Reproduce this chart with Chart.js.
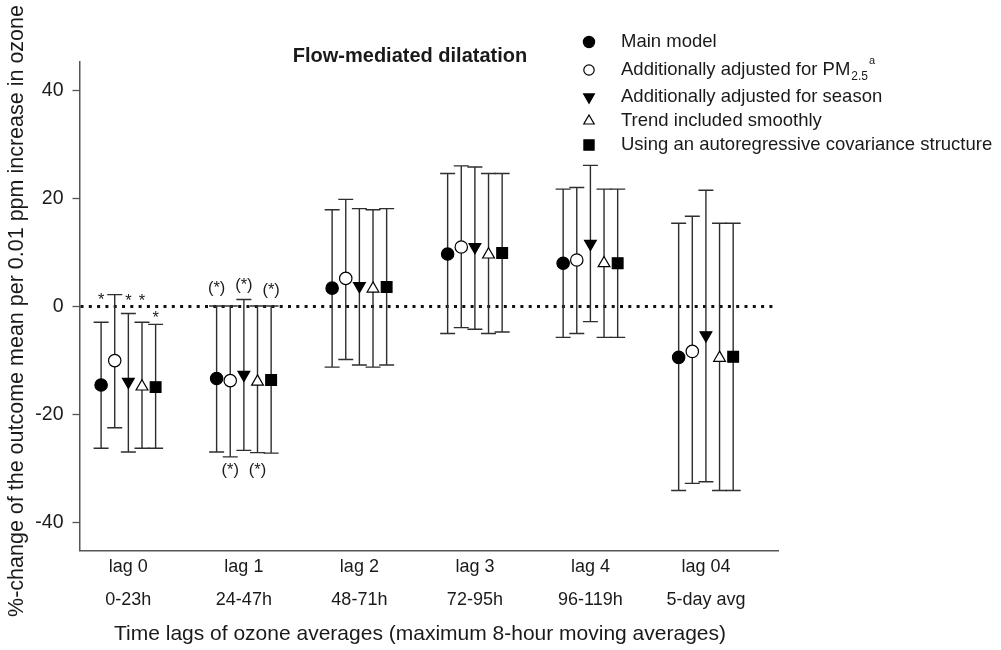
<!DOCTYPE html>
<html><head><meta charset="utf-8">
<script src="https://cdn.jsdelivr.net/npm/chart.js@4.4.1/dist/chart.umd.min.js"></script>
<style>html,body{margin:0;padding:0;background:#fff}#wrap{width:1001px;height:650px;position:relative}</style>
</head><body><div id="wrap"><canvas id="c" width="1001" height="650"></canvas></div>
<script>
// ---------- data ----------
const lagNames = ["lag 0", "lag 1", "lag 2", "lag 3", "lag 4", "lag 04"];
const lagHours = ["0-23h", "24-47h", "48-71h", "72-95h", "96-119h", "5-day avg"];
const yTickValues = [-40, -20, 0, 20, 40];

const seriesNames = ["Main model", "Additionally adjusted for PM", "Additionally adjusted for season", "Trend included smoothly", "Using an autoregressive covariance structure"];
const seriesSub = ["", "2.5", "", "", ""];
const seriesSup = ["", "a", "", "", ""];

const mainEst  = [-14.5, -13.3, 3.4, 9.7, 8.0, -9.4];
const mainLow  = [-26.2, -26.9, -11.2, -5.0, -5.7, -34.0];
const mainHigh = [-2.9, 0.1, 17.9, 24.6, 21.7, 15.4];

const pmEst  = [-10.0, -13.7, 5.2, 11.0, 8.6, -8.3];
const pmLow  = [-22.4, -27.8, -9.8, -3.9, -5.0, -32.7];
const pmHigh = [2.2, 0.1, 19.8, 26.0, 22.0, 16.7];

const seasonEst  = [-13.9, -12.6, 3.8, 11.0, 11.6, -5.3];
const seasonLow  = [-26.9, -26.6, -10.8, -4.2, -2.8, -32.4];
const seasonHigh = [-1.3, 1.3, 18.1, 25.8, 26.1, 21.5];

const trendEst  = [-14.8, -13.9, 3.3, 9.6, 8.0, -9.5];
const trendLow  = [-26.2, -27.0, -11.2, -5.0, -5.7, -34.0];
const trendHigh = [-2.9, 0.1, 17.9, 24.6, 21.7, 15.4];

const arEst  = [-14.9, -13.6, 3.6, 9.9, 8.0, -9.3];
const arLow  = [-26.2, -27.1, -10.8, -4.7, -5.7, -34.0];
const arHigh = [-3.3, 0.1, 18.1, 24.6, 21.7, 15.4];

// significance marks: lag index, series index, text, y value
const sigLag    = [0, 0, 0, 0, 1, 1, 1, 1, 1];
const sigSeries = [0, 2, 3, 4, 0, 2, 4, 1, 3];
const sigText   = ["*", "*", "*", "*", "(*)", "(*)", "(*)", "(*)", "(*)"];
const sigY      = [2.1, 1.9, 1.9, -1.3, 3.3, 3.9, 2.9, -30.3, -30.3];

const titleText = "Flow-mediated dilatation";
const yTitle = "%-change of the outcome mean per 0.01 ppm increase in ozone";
const xTitle = "Time lags of ozone averages (maximum 8-hour moving averages)";

// ---------- styles ----------
const FONT = '"Liberation Sans", Arial, Helvetica, sans-serif';
const TXT = '#1a1a1a';
const groupStep = 0.118;
const series = [
  {est: mainEst,   low: mainLow,   high: mainHigh,   style: 'circle',   rot: 0,   r: 6.2, lr: 5.6, fill: '#000'},
  {est: pmEst,     low: pmLow,     high: pmHigh,     style: 'circle',   rot: 0,   r: 6.2, lr: 5.2, fill: '#fff'},
  {est: seasonEst, low: seasonLow, high: seasonHigh, style: 'triangle', rot: 180, r: 6.8, lr: 6.2, fill: '#000'},
  {est: trendEst,  low: trendLow,  high: trendHigh,  style: 'triangle', rot: 0,   r: 6.8, lr: 6.0, fill: '#fff'},
  {est: arEst,     low: arLow,     high: arHigh,     style: 'rect',     rot: 0,   r: 7.6, lr: 7.2, fill: '#000'}
];
const xPos = (lag, s) => lag + (s - 2) * groupStep;

const datasets = series.map((s, i) => ({
  label: seriesNames[i] + seriesSub[i],
  data: s.est.map((v, j) => ({x: xPos(j, i), y: v})),
  showLine: false,
  pointStyle: s.style,
  rotation: s.rot,
  pointRadius: s.r,
  pointBackgroundColor: s.fill,
  pointBorderColor: '#000',
  pointBorderWidth: 1.2
}));

const drawing = {
  id: 'drawing',
  beforeDatasetsDraw(chart) {
    const {ctx, chartArea, scales: {x, y}} = chart;
    ctx.save();
    // dotted zero line
    const y0 = y.getPixelForValue(0);
    ctx.strokeStyle = '#111';
    ctx.lineWidth = 3;
    ctx.setLineDash([3, 5.3]);
    ctx.beginPath();
    ctx.moveTo(chartArea.left + 1, y0);
    ctx.lineTo(chartArea.right - 2, y0);
    ctx.stroke();
    ctx.setLineDash([]);
    // error bars
    ctx.strokeStyle = '#2e2e2e';
    ctx.lineWidth = 1.4;
    series.forEach((s, i) => {
      s.low.forEach((lo, j) => {
        const px = x.getPixelForValue(xPos(j, i));
        const pl = y.getPixelForValue(lo);
        const ph = y.getPixelForValue(s.high[j]);
        ctx.beginPath();
        ctx.moveTo(px, pl); ctx.lineTo(px, ph);
        ctx.moveTo(px - 7.5, pl); ctx.lineTo(px + 7.5, pl);
        ctx.moveTo(px - 7.5, ph); ctx.lineTo(px + 7.5, ph);
        ctx.stroke();
      });
    });
    ctx.restore();
  },
  afterDatasetsDraw(chart) {
    const {ctx, scales: {x, y}} = chart;
    ctx.save();
    ctx.fillStyle = TXT;
    ctx.textAlign = 'center';
    ctx.textBaseline = 'alphabetic';
    sigText.forEach((t, k) => {
      const px = x.getPixelForValue(xPos(sigLag[k], sigSeries[k]));
      const py = y.getPixelForValue(sigY[k]);
      const fs = 16.5;
      ctx.font = fs + 'px ' + FONT;
      const off = t === '*' ? 0.57 * fs : 0.26 * fs;
      ctx.fillText(t, px, py + off);
    });
    ctx.restore();
  },
  afterDraw(chart) {
    const ctx = chart.ctx;
    ctx.save();
    // title
    ctx.fillStyle = TXT;
    ctx.font = 'bold 20px ' + FONT;
    ctx.textAlign = 'center';
    ctx.textBaseline = 'middle';
    ctx.fillText(titleText, 410, 56);
    // axis titles
    ctx.font = '21px ' + FONT;
    ctx.fillText(xTitle, 420, 634);
    ctx.save();
    ctx.translate(17, 311);
    ctx.rotate(-Math.PI / 2);
    ctx.font = '21.5px ' + FONT;
    ctx.fillText(yTitle, 0, 0);
    ctx.restore();
    // legend
    const mx = 589, tx = 621;
    const rows = [42, 70, 97, 121, 145];
    series.forEach((s, i) => {
      const ry = rows[i];
      ctx.fillStyle = s.fill;
      ctx.strokeStyle = '#000';
      ctx.lineWidth = 1.2;
      Chart.helpers.drawPoint(ctx, {pointStyle: s.style, rotation: s.rot, radius: s.lr, borderWidth: 1.2}, mx, ry);
      ctx.fillStyle = TXT;
      ctx.textAlign = 'left';
      ctx.textBaseline = 'middle';
      ctx.font = '18.5px ' + FONT;
      ctx.fillText(seriesNames[i], tx, ry);
      let w = ctx.measureText(seriesNames[i]).width;
      if (seriesSub[i]) {
        ctx.font = '12px ' + FONT;
        ctx.fillText(seriesSub[i], tx + w + 1, ry + 7);
        w += 1 + ctx.measureText(seriesSub[i]).width;
      }
      if (seriesSup[i]) {
        ctx.font = '11px ' + FONT;
        ctx.fillText(seriesSup[i], tx + w + 1, ry - 9);
      }
    });
    ctx.restore();
  }
};

new Chart(document.getElementById('c'), {
  type: 'scatter',
  data: {datasets},
  options: {
    responsive: false,
    animation: false,
    devicePixelRatio: 1,
    layout: {padding: {left: 0, right: 223, top: 62, bottom: 0}},
    plugins: {legend: {display: false}, tooltip: {enabled: false}},
    scales: {
      x: {
        type: 'linear', min: -0.423, max: 5.624,
        afterBuildTicks: s => { s.ticks = lagNames.map((_, i) => ({value: i})); },
        afterFit: s => { s.height = 99.5; },
        ticks: {
          callback: v => [lagNames[v], lagHours[v]],
          font: {size: 18, family: FONT, lineHeight: 1.85},
          color: TXT, padding: 0, maxRotation: 0, autoSkip: false
        },
        grid: {display: false, drawTicks: false},
        border: {color: '#555', width: 1.5},
        title: {display: false}
      },
      y: {
        type: 'linear', min: -45.1, max: 45.2,
        afterBuildTicks: s => { s.ticks = yTickValues.map(v => ({value: v})); },
        afterFit: s => { s.width = 79.5; },
        ticks: {font: {size: 19.5, family: FONT}, color: TXT, padding: 9},
        grid: {drawOnChartArea: false, drawTicks: true, tickLength: 7, tickColor: '#555', tickWidth: 1.3},
        border: {color: '#555', width: 1.5},
        title: {display: false}
      }
    }
  },
  plugins: [drawing]
});
</script></body></html>
